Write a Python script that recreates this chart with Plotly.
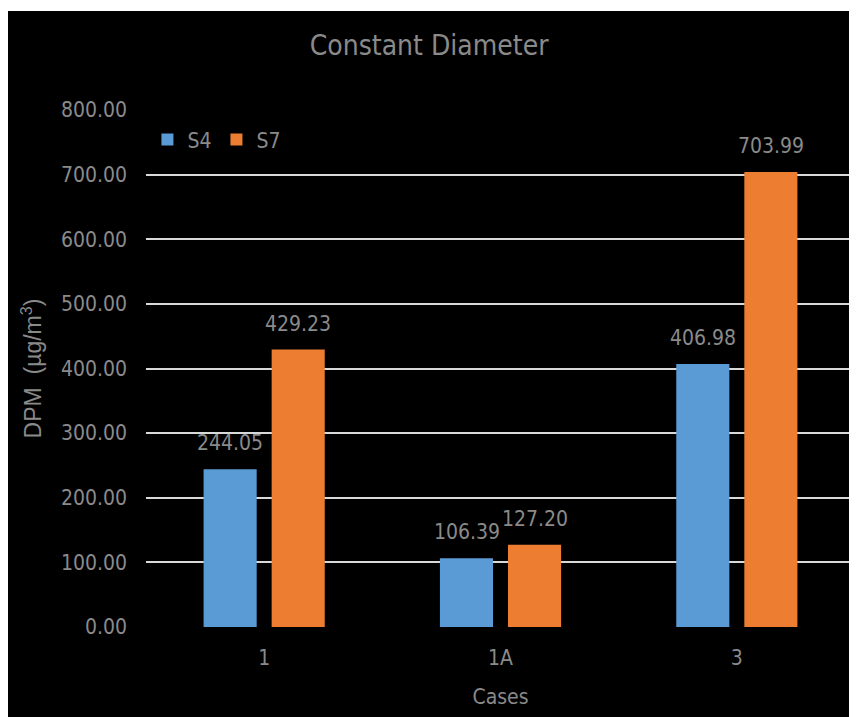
import plotly.graph_objects as go

cases = ["1", "1A", "3"]
s4 = [244.05, 106.39, 406.98]
s7 = [429.23, 127.20, 703.99]
y_ticks = [0, 100, 200, 300, 400, 500, 600, 700, 800]

gray = "#8a8a8a"
narrow = "Liberation Sans Narrow, DejaVu Sans Condensed, Roboto Condensed, sans-serif"

fig = go.Figure()
fig.add_trace(go.Bar(x=cases, y=s4, name="S4", marker=dict(color="#5b9bd5", line=dict(width=0))))
fig.add_trace(go.Bar(x=cases, y=s7, name="S7", marker=dict(color="#ed7d31", line=dict(width=0))))

# value labels above the bars (x given as category index)
for vals, shift in [(s4, -34), (s7, 34)]:
    for i, v in enumerate(vals):
        fig.add_annotation(x=i, y=v, text=f"{v:.2f}", showarrow=False,
                           xshift=shift, yshift=26, yanchor="middle",
                           font=dict(family=narrow, size=21, color=gray))

# thin white strip along the top
fig.add_shape(type="rect", xref="paper", yref="paper", x0=-0.3, x1=1.1, y0=1.1915, y1=1.25,
              fillcolor="white", line=dict(width=0))

fig.update_layout(
    width=849, height=709,
    paper_bgcolor="black", plot_bgcolor="black",
    margin=dict(l=138, r=2, t=102, b=90),
    barmode="group", bargap=0.424, bargroupgap=0.22,
    title=dict(text="Constant Diameter", x=0.496, xanchor="center", y=0.948, yanchor="middle",
               font=dict(family=narrow, size=28, color=gray)),
    legend=dict(orientation="h", x=0.002, y=0.982, xanchor="left", yanchor="top",
                bgcolor="rgba(0,0,0,0)", font=dict(family=narrow, size=21, color=gray),
                itemwidth=30, tracegroupgap=0),
    showlegend=True,
)
fig.update_xaxes(type="category", showgrid=False, showline=False, ticks="",
                 tickfont=dict(family=narrow, size=21, color=gray), ticklabelstandoff=16,
                 title=dict(text="Cases", font=dict(family=narrow, size=21, color=gray), standoff=20))
fig.update_yaxes(range=[0, 800], tickvals=y_ticks, tickformat=".2f",
                 showgrid=True, gridcolor="#d9d9d9", gridwidth=1.5, zeroline=False,
                 tickfont=dict(family=narrow, size=21, color=gray), ticklabelstandoff=18,
                 title=dict(text="DPM\u00a0\u00a0(µg/m<sup>3</sup>)", standoff=12,
                            font=dict(family="Liberation Sans, Arial, sans-serif", size=23, color=gray)))

fig.write_html("out.html")
